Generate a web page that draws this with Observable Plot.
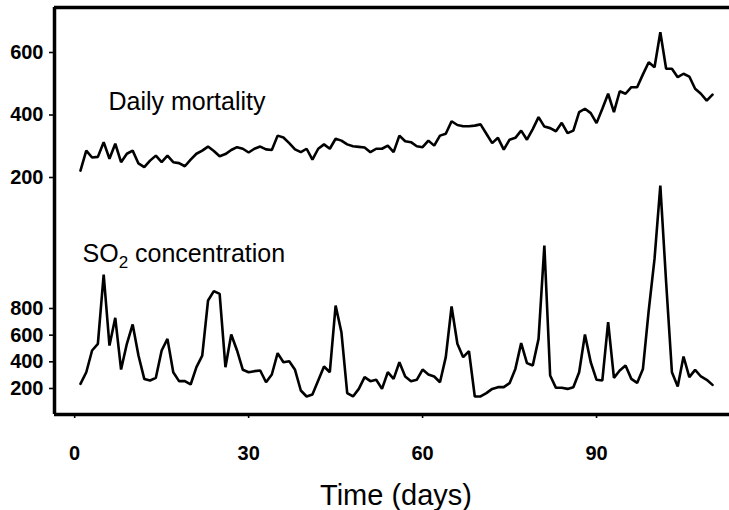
<!DOCTYPE html>
<html>
<head>
<meta charset="utf-8">
<script src="https://cdn.jsdelivr.net/npm/d3@7"></script>
<script src="https://cdn.jsdelivr.net/npm/@observablehq/plot@0.6"></script>
<style>
  body { margin: 0; background: #fff; }
  svg { display: block; }
  [aria-label$="tick label"] text { font-weight: bold; }
</style>
</head>
<body>
<div id="chart"></div>
<script>
// ---- data ----
const days = d3.range(1, 111);
const mortality = [
  222, 286, 264, 266, 313, 260, 308, 249, 276, 286,
  245, 233, 254, 270, 249, 270, 249, 246, 236, 257,
  276, 286, 299, 285, 268, 275, 288, 297, 292, 280,
  292, 299, 290, 288, 334, 328, 310, 290, 281, 292,
  257, 292, 306, 292, 324, 318, 306, 300, 298, 296,
  281, 292, 292, 302, 281, 334, 316, 313, 300, 297,
  318, 302, 334, 340, 380, 368, 364, 364, 366, 370,
  340, 310, 327, 289, 321, 327, 350, 321, 355, 393,
  363, 358, 348, 375, 342, 350, 409, 420, 406, 374,
  420, 468, 409, 476, 468, 489, 489, 530, 569, 553,
  665, 548, 548, 521, 532, 523, 484, 468, 446, 465
];
const so2 = [
  235, 322, 485, 535, 1055, 522, 730, 342, 535, 680,
  447, 272, 260, 280, 485, 572, 322, 255, 255, 230,
  360, 447, 860, 930, 910, 360, 605, 485, 340, 322,
  330, 335, 247, 305, 465, 397, 405, 340, 185, 140,
  155, 260, 365, 322, 822, 622, 165, 140, 197, 285,
  255, 265, 197, 322, 272, 397, 290, 255, 265, 342,
  305, 290, 247, 435, 815, 535, 435, 480, 140, 140,
  165, 197, 210, 210, 240, 347, 540, 390, 372, 572,
  1272, 297, 205, 205, 197, 210, 322, 605, 397, 265,
  260, 697, 280, 335, 372, 272, 242, 347, 785, 1172,
  1722, 997, 322, 215, 440, 285, 340, 290, 265, 227
];
const mortalityTicks = [200, 400, 600];
const so2Ticks = [200, 400, 600, 800];
const xTicks = [0, 30, 60, 90];
const mortalityLabel = "Daily mortality";
const so2Label = "SO2 concentration";
const xLabel = "Time (days)";

// ---- the lower panel (SO2) shares the vertical scale through a linear map ----
const so2Factor = 0.42667, so2Offset = -560.5;
const toPanel = s => s * so2Factor + so2Offset;
const fromPanel = v => Math.round((v - so2Offset) / so2Factor);

const mortData = days.map((d, i) => ({day: d, value: mortality[i]}));
const so2Data = days.map((d, i) => ({day: d, value: toPanel(so2[i])}));

const xDomain = [-3.48, 112.93];
const yDomain = [-558.4, 744];

const font = "'Liberation Sans', Arial, Helvetica, sans-serif";

const plot = Plot.plot({
  width: 729,
  height: 510,
  marginTop: 7,
  marginBottom: 96,
  marginLeft: 54,
  marginRight: 0,
  style: {fontFamily: font, background: "#fff", color: "#000", overflow: "visible"},
  x: {domain: xDomain},
  y: {domain: yDomain},
  marks: [
    Plot.axisX({ticks: xTicks, tickSize: 4, tickPadding: 27, fontSize: 20, fontWeight: "bold", label: null, strokeWidth: 1.6}),
    Plot.axisY({ticks: mortalityTicks, tickSize: 5, tickPadding: 6, fontSize: 20, fontWeight: "bold", label: null, strokeWidth: 1.6}),
    Plot.axisY({ticks: so2Ticks.map(toPanel), tickFormat: fromPanel, tickSize: 5, tickPadding: 6, fontSize: 20, fontWeight: "bold", label: null, strokeWidth: 1.6}),
    Plot.lineY(mortData, {x: "day", y: "value", stroke: "#000", strokeWidth: 2.6, strokeLinejoin: "miter"}),
    Plot.lineY(so2Data, {x: "day", y: "value", stroke: "#000", strokeWidth: 2.6, strokeLinejoin: "miter"}),
    Plot.ruleX([xDomain[0]], {stroke: "#000", strokeWidth: 3.5}),
    Plot.ruleY(yDomain, {stroke: "#000", strokeWidth: 3.5}),
    Plot.text([mortalityLabel], {text: d => d, frameAnchor: "top-left", textAnchor: "start", lineAnchor: "top", dx: 54, dy: 85, fontSize: 25, fill: "#000"}),
    Plot.text([so2Label], {text: d => d, frameAnchor: "top-left", textAnchor: "start", lineAnchor: "top", dx: 28, dy: 237, fontSize: 25, fill: "#000"}),
    Plot.text([xLabel], {text: d => d, frameAnchor: "bottom", textAnchor: "middle", lineAnchor: "top", dx: 4, dy: 70, fontSize: 29, fill: "#000"})
  ]
});

// subscript 2 in "SO2"
d3.select(plot).selectAll("text").filter(function () { return this.textContent === so2Label; }).each(function () {
  const t = d3.select(this);
  t.text(null);
  t.append("tspan").text("SO");
  t.append("tspan").attr("font-size", 17).attr("dy", 6).text("2");
  t.append("tspan").attr("dy", -6).text(" concentration");
});

document.getElementById("chart").appendChild(plot);
</script>
</body>
</html>
